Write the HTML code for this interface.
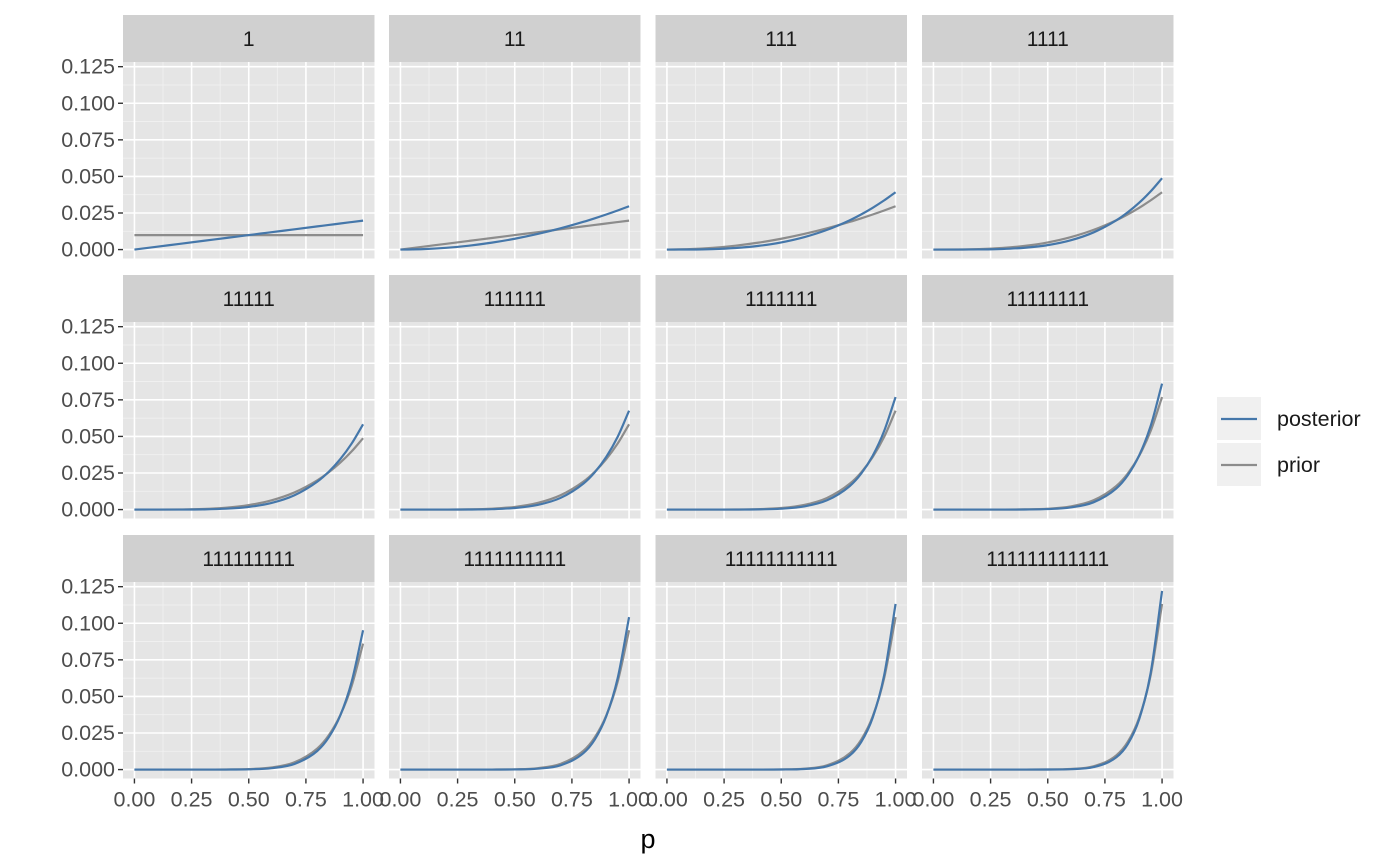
<!DOCTYPE html>
<html><head><meta charset="utf-8">
<style>
html,body{margin:0;padding:0;background:#fff;}
svg{display:block;font-family:"Liberation Sans",Arial,sans-serif;}
</style></head>
<body>
<svg id="chart" width="1400" height="866" xmlns="http://www.w3.org/2000/svg"></svg>
<script>
// Data
const panelLabels = ["1","11","111","1111","11111","111111","1111111","11111111","111111111","1111111111","11111111111","111111111111"];
const pGrid = [0,0.1,0.2,0.3,0.4,0.5,0.6,0.7,0.8,0.85,0.9,0.95,1];
const posteriorPeak = [0.0198,0.0296,0.0392,0.0488,0.0583,0.0676,0.0769,0.0861,0.0952,0.1042,0.1132,0.1221];
const flatPrior = 0.0099;
const shape1  = [0,.1,.2,.3,.4,.5,.6,.7,.8,.85,.9,.95,1];
const shape2  = [0,.01,.04,.09,.16,.25,.36,.49,.64,.7225,.81,.9025,1];
const shape3  = [0,.001,.008,.027,.064,.125,.216,.343,.512,.6141,.729,.8574,1];
const shape4  = [0,0,.0016,.0081,.0256,.0625,.1296,.2401,.4096,.522,.6561,.8145,1];
const shape5  = [0,0,.00032,.00243,.01024,.03125,.0778,.1681,.3277,.4437,.5905,.7738,1];
const shape6  = [0,0,0,.00073,.0041,.0156,.0467,.1176,.2621,.3771,.5314,.7351,1];
const shape7  = [0,0,0,.00022,.00164,.0078,.028,.0824,.2097,.3206,.4783,.6983,1];
const shape8  = [0,0,0,0,.00066,.0039,.0168,.0576,.1678,.2725,.4305,.6634,1];
const shape9  = [0,0,0,0,.00026,.00195,.0101,.0404,.1342,.2316,.3874,.6302,1];
const shape10 = [0,0,0,0,0,.00098,.006,.0282,.1074,.1969,.3487,.5987,1];
const shape11 = [0,0,0,0,0,.00049,.0036,.0198,.0859,.1673,.3138,.5688,1];
const shape12 = [0,0,0,0,0,.00024,.0022,.0138,.0687,.1422,.2824,.5404,1];
const shapes = [shape1,shape2,shape3,shape4,shape5,shape6,shape7,shape8,shape9,shape10,shape11,shape12];
const xTicks = [0,0.25,0.5,0.75,1];
const xTickLabels = ["0.00","0.25","0.50","0.75","1.00"];
const yTicks = [0,0.025,0.05,0.075,0.1,0.125];
const yTickLabels = ["0.000","0.025","0.050","0.075","0.100","0.125"];

const NS="http://www.w3.org/2000/svg";
const svg=document.getElementById('chart');
function mk(tag,attrs,parent){const e=document.createElementNS(NS,tag);for(const k in attrs)e.setAttribute(k,attrs[k]);(parent||svg).appendChild(e);return e;}

const colLeft=[123,389,655.5,922], pw=251.5, ph=196.5;
const rowTop=[62,322,582], stripH=47;
const xmin=-0.05, xmax=1.05, ymin=-0.0061, ymax=0.1282;

function smoothPath(pts){
  const n=pts.length, dx=[], dy=[], m=[], t=[];
  for(let i=0;i<n-1;i++){dx[i]=pts[i+1][0]-pts[i][0];dy[i]=pts[i+1][1]-pts[i][1];m[i]=dy[i]/dx[i];}
  t[0]=m[0];t[n-1]=m[n-2];
  for(let i=1;i<n-1;i++){t[i]=(m[i-1]*m[i]<=0)?0:(m[i-1]+m[i])/2;}
  for(let i=0;i<n-1;i++){if(m[i]===0){t[i]=0;t[i+1]=0;continue;}const a=t[i]/m[i],b=t[i+1]/m[i],s=a*a+b*b;if(s>9){const tau=3/Math.sqrt(s);t[i]=tau*a*m[i];t[i+1]=tau*b*m[i];}}
  let d=`M${pts[0][0].toFixed(2)},${pts[0][1].toFixed(2)}`;
  for(let i=0;i<n-1;i++){const h=dx[i]/3;d+=` C${(pts[i][0]+h).toFixed(2)},${(pts[i][1]+t[i]*h).toFixed(2)} ${(pts[i+1][0]-h).toFixed(2)},${(pts[i+1][1]-t[i+1]*h).toFixed(2)} ${pts[i+1][0].toFixed(2)},${pts[i+1][1].toFixed(2)}`;}
  return d;
}

panelLabels.forEach((lab,k)=>{
  const r=Math.floor(k/4), c=k%4;
  const L=colLeft[c], T=rowTop[r];
  const sx=v=>L+(v-xmin)/(xmax-xmin)*pw;
  const sy=v=>T+ph-(v-ymin)/(ymax-ymin)*ph;
  const g=mk('g',{});
  
  
  const strip=mk('rect',{x:L,y:T-stripH,width:pw,height:stripH,fill:'#d0d0d0'},g);
  
  
  const st=mk('text',{x:L+pw/2,y:T-stripH/2+7.5,'text-anchor':'middle','font-size':21,fill:'#1a1a1a'},g);
  st.textContent=lab;
  
  
  const bg=mk('rect',{x:L,y:T,width:pw,height:ph,fill:'#e5e5e5'},g);
  
  
  for(let i=0;i<xTicks.length-1;i++){const v=(xTicks[i]+xTicks[i+1])/2;mk('line',{x1:sx(v),x2:sx(v),y1:T,y2:T+ph,stroke:'#f2f2f2','stroke-width':0.8},g);}
  for(let i=0;i<yTicks.length-1;i++){const v=(yTicks[i]+yTicks[i+1])/2;mk('line',{x1:L,x2:L+pw,y1:sy(v),y2:sy(v),stroke:'#f2f2f2','stroke-width':0.8},g);}
  xTicks.forEach(v=>mk('line',{x1:sx(v),x2:sx(v),y1:T,y2:T+ph,stroke:'#fff','stroke-width':1.6},g));
  yTicks.forEach(v=>mk('line',{x1:L,x2:L+pw,y1:sy(v),y2:sy(v),stroke:'#fff','stroke-width':1.6},g));
  const priorVals = k===0 ? pGrid.map(()=>flatPrior) : shapes[k-1].map(s=>s*posteriorPeak[k-1]);
  const postVals = shapes[k].map(s=>s*posteriorPeak[k]);
  const pr=mk('path',{d:smoothPath(pGrid.map((p,i)=>[sx(p),sy(priorVals[i])])),fill:'none',stroke:'#8c8c8c','stroke-width':2.2},g);
  
  
  const po=mk('path',{d:smoothPath(pGrid.map((p,i)=>[sx(p),sy(postVals[i])])),fill:'none',stroke:'#4577aa','stroke-width':2.2},g);
  
  
  if(c===0){
    yTicks.forEach((v,i)=>{
      mk('line',{x1:L-5,x2:L,y1:sy(v),y2:sy(v),stroke:'#333','stroke-width':1.4},g);
      const t=mk('text',{x:L-8,y:sy(v)+7,'text-anchor':'end','font-size':21.5,fill:'#4d4d4d'},g);
      t.textContent=yTickLabels[i];
      
      
    });
  }
  if(r===2){
    xTicks.forEach((v,i)=>{
      mk('line',{x1:sx(v),x2:sx(v),y1:T+ph,y2:T+ph+5,stroke:'#333','stroke-width':1.4},g);
      const t=mk('text',{x:sx(v),y:T+ph+28,'text-anchor':'middle','font-size':21.5,fill:'#4d4d4d'},g);
      t.textContent=xTickLabels[i];
      
      
    });
  }
});
const xt=mk('text',{x:648,y:848,'text-anchor':'middle','font-size':27,fill:'#000'});
xt.textContent='p';


const leg=mk('g',{});


[["posterior","#4577aa",397],["prior","#8c8c8c",443]].forEach(([n,col,y])=>{
  const e=mk('g',{},leg);
  
  
  mk('rect',{x:1217,y:y,width:44,height:43,fill:'#f0f0f0'},e);
  mk('line',{x1:1221,x2:1257,y1:y+22,y2:y+22,stroke:col,'stroke-width':2.2},e);
  const t=mk('text',{x:1277,y:y+29,'font-size':21.5,fill:'#1a1a1a'},e);
  t.textContent=n;
});
</script>
</body></html>
